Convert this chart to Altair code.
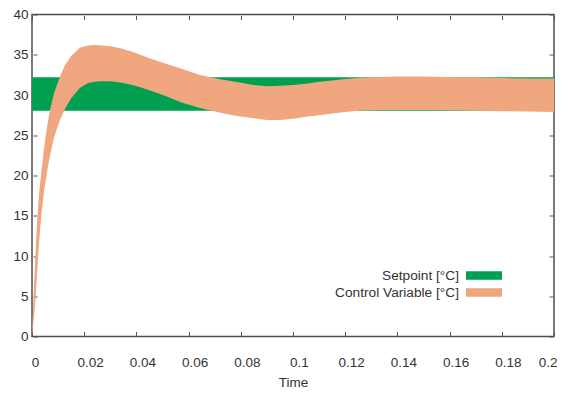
import altair as alt
import pandas as pd

# ---- data ----
series_names = ["Setpoint [°C]", "Control Variable [°C]"]
series_colors = ["#00A050", "#F0A67F"]

sp_time = [0.0, 0.2]
sp_lower = [28.05, 28.05]
sp_upper = [32.2, 32.2]

cv_time = [0, 0.0006, 0.0013, 0.002, 0.0028, 0.0036, 0.0046, 0.0055, 0.0068, 0.0084,
           0.0106, 0.0125, 0.015, 0.0184, 0.0215, 0.0235, 0.026, 0.03, 0.034, 0.039,
           0.045, 0.051, 0.057, 0.0644, 0.072, 0.0785, 0.085, 0.09, 0.095, 0.1,
           0.105, 0.11, 0.115, 0.12, 0.125, 0.13, 0.14, 0.15, 0.16, 0.17,
           0.18, 0.19, 0.2]
cv_upper = [0, 5, 10, 14.5, 18, 20.5, 23.25, 25.5, 28, 30.2,
            32.2, 33.6, 34.85, 35.9, 36.16, 36.2, 36.18, 36.05, 35.8, 35.3,
            34.55, 33.9, 33.3, 32.5, 31.95, 31.6, 31.25, 31.1, 31.15, 31.25,
            31.4, 31.65, 31.8, 32.0, 32.1, 32.2, 32.3, 32.3, 32.25, 32.2,
            32.1, 32.05, 32.05]
cv_lower = [0, 2.0, 4.3, 8.1, 12.05, 15.1, 18, 19.9, 22.3, 24.7,
            26.8, 28.2, 29.6, 30.9, 31.5, 31.6, 31.7, 31.72, 31.55, 31.2,
            30.6, 29.9, 29.1, 28.4, 27.8, 27.4, 27.1, 26.9, 26.88, 27.05,
            27.3, 27.5, 27.7, 27.88, 28.05, 28.1, 28.15, 28.15, 28.1, 28.03,
            27.98, 27.95, 27.9]

x_ticks = [0, 0.02, 0.04, 0.06, 0.08, 0.1, 0.12, 0.14, 0.16, 0.18, 0.2]
y_ticks = [0, 5, 10, 15, 20, 25, 30, 35, 40]

sp_df = pd.DataFrame({"t": sp_time, "lo": sp_lower, "hi": sp_upper,
                      "series": series_names[0]})
cv_df = pd.DataFrame({"t": cv_time, "lo": cv_lower, "hi": cv_upper,
                      "series": series_names[1]})

FONT = "Liberation Sans"
xscale = alt.Scale(domain=[0, 0.2], nice=False, zero=False)
yscale = alt.Scale(domain=[0, 40], nice=False)

color = alt.Color(
    "series:N",
    scale=alt.Scale(domain=series_names, range=series_colors),
    legend=None,
)

x_bottom = alt.Axis(values=x_ticks, format=".2~f", orient="bottom", offset=-5,
                    tickSize=4, labelPadding=20, domain=False, title="Time",
                    labelFlush=False,
                    labelOffset={"condition": {"test": "datum.value == 0 || datum.value >= 0.2",
                                               "value": 3},
                                 "value": 6},
                    labelAlign={"condition": {"test": "datum.value >= 0.2", "value": "right"},
                                "value": "center"},
                    titlePadding=6, titleFontWeight="normal")
y_left = alt.Axis(values=y_ticks, orient="left", offset=-5, tickSize=4,
                  labelPadding=5, domain=False, title=None, labelFlush=False)
x_top = alt.Axis(values=x_ticks, orient="top", offset=-5, tickSize=4,
                 labels=False, domain=False, title=None)
y_right = alt.Axis(values=y_ticks, orient="right", offset=-5, tickSize=4,
                   labels=False, domain=False, title=None)

sp = alt.Chart(sp_df).mark_area(opacity=1).encode(
    x=alt.X("t:Q", scale=xscale, axis=x_bottom),
    y=alt.Y("lo:Q", scale=yscale, axis=y_left),
    y2="hi:Q",
    color=color,
)

cv = alt.Chart(cv_df).mark_area(opacity=1).encode(
    x=alt.X("t:Q", scale=xscale, axis=x_top),
    y=alt.Y("lo:Q", scale=yscale, axis=y_right),
    y2="hi:Q",
    color=color,
)

# ---- legend (drawn manually: labels on the left of the swatches) ----
legend_layers = []
row_centers = [261.0, 278.0]
for name, col, yc in zip(series_names, series_colors, row_centers):
    entry = pd.DataFrame({"label": [name]})
    legend_layers.append(
        alt.Chart(entry).mark_rect(color=col, opacity=1).encode(
            x=alt.value(434), x2=alt.value(470),
            y=alt.value(yc - 4.2), y2=alt.value(yc + 4.2),
        )
    )
    legend_layers.append(
        alt.Chart(entry).mark_text(align="right", baseline="middle", font=FONT,
                                   fontSize=13.7, color="#333333").encode(
            text="label:N", x=alt.value(427), y=alt.value(yc),
        )
    )

chart = alt.layer(sp, cv, *legend_layers).resolve_axis(
    x="independent", y="independent"
).properties(
    width=522,
    height=322,
    autosize=alt.AutoSizeParams(type="none"),
    padding={"left": 24, "top": 6.5, "right": 6, "bottom": 51.5},
).configure_view(
    stroke="#4d4d4d", strokeWidth=1.5
).configure_axis(
    grid=False,
    labelFont=FONT, labelFontSize=13.5, labelColor="#333333",
    titleFont=FONT, titleFontSize=13.5, titleColor="#333333",
    tickColor="#555555", tickWidth=1,
)

chart.save("out.html", embed_options={"renderer": "svg", "actions": False})
